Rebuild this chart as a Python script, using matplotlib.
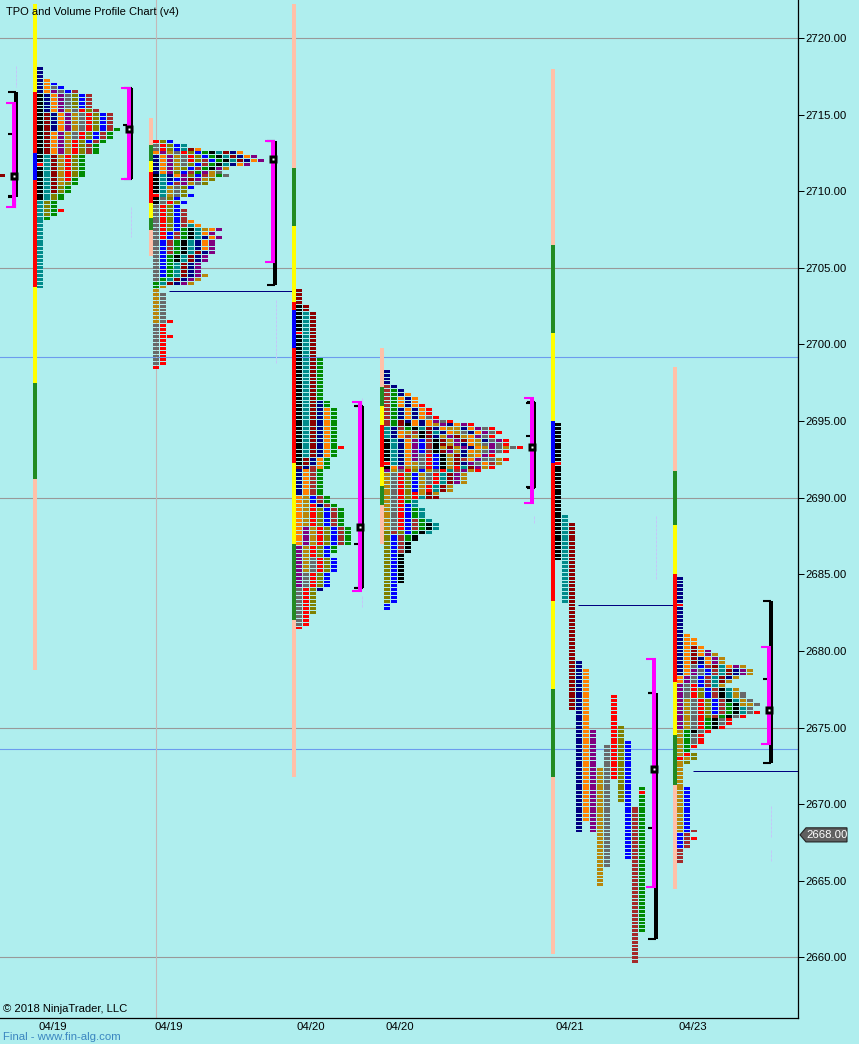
import matplotlib
matplotlib.use('Agg')
import matplotlib.pyplot as plt
from matplotlib.patches import Polygon

plt.rcParams['font.family'] = ['Liberation Sans', 'DejaVu Sans']

tpo_colors = {'k': '#000000', 'n': '#000080', 'o': '#FF8000', 'b': '#0000FF',
              'd': '#696969', 'p': '#800080', 'm': '#8B0000', 't': '#008B8B',
              'g': '#008B00', 'r': '#FF0000', 'w': '#A52A2A', 'l': '#808000',
              'y': '#B8860B'}
range_colors = {'P': '#FFC0A8', 'G': '#228B22', 'Y': '#FFFF00', 'R': '#FF0000',
                'B': '#0000FF'}

price_ticks = [2660, 2665, 2670, 2675, 2680, 2685, 2690, 2695, 2700, 2705, 2710, 2715, 2720]
gray_levels = [2720, 2705, 2690, 2675, 2660]
blue_levels = [2699.2, 2673.6]
date_labels = ['04/19', '04/19', '04/20', '04/20', '04/21', '04/23']
date_x = [53, 169, 311, 400, 570, 693]
last_price = 2668.00

# each block: how many rows, letters for columns going right. rows step 0.25 down
rows_a = [(3, 'n'), (1, 'no'), (1, 'nob'), (1, 'nodb'), (1, 'nopdbw'), (4, 'knopdlbw'),
          (1, 'knopydrlw'), (4, 'kmnopydrlbw'), (1, 'kmnopydrlbwg'), (2, 'kmopydrlbwg'),
          (1, 'kmopyrlbwg'), (3, 'kmopyrlwg'), (2, 'ktmyrlg'), (1, 'rtmyrlg'), (3, 'ktmyrlg'),
          (1, 'ktmyrg'), (1, 'ktmylg'), (2, 'ktmlg'), (2, 'ktlg'), (2, 'tlg'), (1, 'tlgr'),
          (1, 'tlg'), (1, 'tg'), (18, 't')]
rows_b = [(1, 'rlb'), (1, 'drlbt'), (1, 'drlbtmo'), (1, 'opydrlbgktmno'), (1, 'nopydrlbgktmnop'),
          (1, 'nopydrlwbgktmnop'), (1, 'nopydlbwgktnop'), (1, 'nopylbwgkpy'), (1, 'noplbwgpyd'),
          (1, 'ktnoplbwygd'), (1, 'ktnbpmpyl'), (1, 'ktbwpydl'), (1, 'ktydlb'), (1, 'ktydl'),
          (1, 'rtydlb'), (1, 'kdlb'), (1, 'kdrlb'), (1, 'drlb'), (3, 'drlbw'), (1, 'drlbwo'),
          (1, 'drlbwto'), (1, 'drlbgktyop'), (1, 'drbwgktop'), (1, 'drbwgktnop'), (3, 'dbwgktnop'),
          (1, 'dbwgktmnp'), (2, 'dbgktmnp'), (3, 'dbgtmnp'), (1, 'dbgtmnpy'), (1, 'dgtmnpy'),
          (1, 'gtmnpy'), (1, 'gy'), (1, 'y'), (7, 'yd'), (1, 'ydr'), (3, 'dr'), (1, 'drr'),
          (7, 'dr'), (1, 'r')]
rows_c = [(4, 'm'), (2, 'km'), (5, 'ktm'), (1, 'rtm'), (6, 'ktm'), (11, 'ktmg'), (2, 'ktmng'),
          (10, 'ktmnog'), (1, 'ktmnogr'), (2, 'ktmnog'), (2, 'kmnog'), (1, 'mnwog'), (7, 'nowg'),
          (2, 'oybwg'), (1, 'oyrnwg'), (5, 'oyrlbwg'), (5, 'opyrlbwg'), (2, 'pyrlbg'), (1, 'pyrlb'),
          (4, 'pydrlb'), (4, 'pdrlb'), (1, 'drln'), (6, 'drl'), (3, 'dr'), (1, 'r')]
rows_d = [(4, 'n'), (1, 'wn'), (1, 'wgn'), (1, 'wgno'), (2, 'wgono'), (1, 'wgonor'), (2, 'wgnonor'),
          (1, 'wgnonodr'), (1, 'wgmnonopdr'), (1, 'wgmkonoypnopr'), (1, 'tnwgktmnoyynopdr'),
          (1, 'tnoywkmtnoydnopdr'), (1, 'tnowykmnypmyopdr'), (1, 'ktnopbwkmypmoyndpr'),
          (1, 'ktnopbwkmypnoydpdr'), (1, 'ktnopbwkymypnoypdydr'), (1, 'ktnopbwkmpynoydpdr'),
          (1, 'ktnopdrbkymnyopr'), (1, 'ktnopdrbkymwopddyr'), (1, 'rtnoydrbkymnpdowy'),
          (1, 'kopyydrbkyrtmpyr'), (1, 'pydrlbydrtwpyr'), (3, 'ydrlbydrtmpy'), (2, 'ydrlbyrtmy'),
          (1, 'ydrlrymy'), (1, 'ydrlrtmm'), (1, 'ydrgt'), (1, 'ydrbt'), (3, 'ydrbgt'), (1, 'ydrbwgt'),
          (2, 'ydrbwgkt'), (1, 'lwlbgkt'), (2, 'lbwgk'), (3, 'lbwk'), (8, 'lbk'), (5, 'lb'), (2, 'b')]
rows_f = [(7, 'n'), (1, 'r'), (5, 'n'), (2, 'n'), (1, 'no'), (2, 'noo'), (1, 'nomo'), (1, 'nomop'),
          (1, 'nomopy'), (2, 'nomnopy'), (1, 'nodbwmtopy'), (2, 'nopdbwtmnpy'), (1, 'opdbwtmny'),
          (1, 'opdbwtmy'), (1, 'pdrbwty'), (1, 'pdrlbwkty'), (2, 'pdrlbwktyd'), (1, 'pydrlbwktyd'),
          (1, 'pydrlbwgkyyd'), (1, 'pydrlbwgktd'), (1, 'pydrlbwgktdr'), (1, 'pydrlwgkdr'),
          (2, 'pydrgkdr'), (1, 'pydrgkr'), (1, 'ygkdr'), (3, 'ygdr'), (1, 'ygr'), (1, 'yg'),
          (1, 'yrl'), (1, 'ryl'), (1, 'yl'), (6, 'y'), (11, 'yb'), (1, 'ybw'), (1, 'bw'), (1, 'bwr'),
          (2, 'bw'), (4, 'w')]
tops = [2718.0, 2713.25, 2703.5, 2698.25, 2684.75]
profile_rows = [rows_a, rows_b, rows_c, rows_d, rows_f]
profile_x = [37, 153, 296, 384, 677]

# 04/21 session is made of plain columns: letter, high, low
columns_e = [[('k', 2694.75, 2692.5), ('r', 2692.25, 2692.25), ('k', 2692.0, 2686.0)],
             [('t', 2688.75, 2683.25)], [('m', 2688.25, 2676.25)], [('n', 2679.25, 2668.25)],
             [('o', 2678.75, 2669.0)], [('p', 2674.75, 2668.25)], [('y', 2672.25, 2664.75)],
             [('d', 2673.75, 2666.0)], [('r', 2677.0, 2671.75)], [('l', 2675.0, 2670.25)],
             [('b', 2674.0, 2666.5)], [('w', 2669.75, 2659.75)],
             [('g', 2671.0, 2671.0), ('r', 2670.75, 2670.75), ('g', 2670.5, 2661.75)]]
columns_e_x = 555

range_x = [33, 149, 292, 380, 551, 673]
range_prices = [[2722.25, 2716.5, 2712.5, 2710.75, 2703.75, 2697.5, 2691.25, 2678.75],
                [2714.75, 2713, 2712, 2711.25, 2709.25, 2708.25, 2707.5, 2705.75],
                [2722.25, 2711.5, 2707.75, 2702.75, 2702.25, 2699.75, 2692.25, 2687, 2682, 2671.75],
                [2699.75, 2697.25, 2696, 2694.75, 2692, 2690.75, 2689.5, 2687],
                [2718, 2706.5, 2700.75, 2695, 2692.25, 2683.25, 2677.5, 2671.75, 2660.25],
                [2698.5, 2691.75, 2688.25, 2685, 2678, 2674.5, 2671.25, 2664.5]]
range_letters = ['YRBRYGP', 'PGYRYGP', 'PGYRBRYGP', 'PGYRYGP', 'PGYBRYGP', 'PGYRYGP']

# bracket x, black hi/lo, magenta hi/lo, poc, small ticks
bracket_x = [12, 127, 271, 358, 530, 652, 767]
bracket_black_x = [16, 132, 275, 363, 535, 656, 771]
black_high = [2716.5, 2716.75, 2713.25, 2696.0, 2696.25, 2677.25, 2683.25]
black_low = [2709.6, 2710.8, 2703.9, 2684.1, 2690.65, 2661.2, 2672.7]
value_high = [2715.75, 2716.75, 2713.25, 2696.25, 2696.5, 2679.5, 2680.25]
value_low = [2709.0, 2710.8, 2705.4, 2683.9, 2689.65, 2664.6, 2673.9]
poc_prices = [2711.0, 2714.05, 2712.1, 2688.1, 2693.3, 2672.3, 2676.15]
black_widths = [4, 2, 4, 2, 2, 4, 4]
mid_ticks = [[2713.75, 2709.7], [2714.35], [], [2696.0, 2687.0, 2684.1], [2696.2, 2694.0, 2690.7],
             [2677.25, 2668.45], [2678.15]]

naked_poc_prices = [2703.5, 2683.0, 2672.2]
naked_poc_from = [169, 578, 693]
naked_poc_to = [293, 673, 798]

dash_x = [16, 16, 131, 276, 362, 362, 534, 656, 771, 771]
dash_high = [2718.2, 2709.5, 2709.0, 2702.9, 2696.5, 2683.6, 2688.8, 2688.8, 2669.9, 2667.0]
dash_low = [2716.8, 2708.9, 2707.0, 2698.7, 2694.2, 2682.9, 2688.3, 2684.6, 2667.8, 2666.3]

fig = plt.figure(figsize=(8.59, 10.44), dpi=100, facecolor='#AFEEEE')
ax = fig.add_axes([0, 26 / 1044, 798 / 859, 1018 / 1044], facecolor='#AFEEEE')
ax.set_xlim(0, 798)
ax.set_ylim(2656.05, 2722.48)

for lv in gray_levels:
    ax.axhline(lv, color='#999999', lw=0.8, zorder=1)
for lv in blue_levels:
    ax.axhline(lv, color='#6C9CEE', lw=0.8, zorder=1)
ax.axvline(156, color='#C4B8B8', lw=0.8, zorder=1)

row_h = 0.19
col_w = 6
col_step = 7


def draw_cell(x, price, letter):
    ax.barh(price, col_w, height=row_h, left=x, align='center', color=tpo_colors[letter],
            linewidth=0, snap=True, zorder=3)


for top, rows, x0 in zip(tops, profile_rows, profile_x):
    price = top
    for count, letters in rows:
        for i in range(count):
            for c, letter in enumerate(letters):
                draw_cell(x0 + c * col_step, price, letter)
            price -= 0.25

for c, runs in enumerate(columns_e):
    for letter, hi, lo in runs:
        price = hi
        while price >= lo:
            draw_cell(columns_e_x + c * col_step, price, letter)
            price -= 0.25

draw_cell(-1, 2711.0, 'm')

for x, prices, letters in zip(range_x, range_prices, range_letters):
    for i, letter in enumerate(letters):
        ax.bar(x, prices[i] - prices[i + 1], width=4, bottom=prices[i + 1], align='edge',
               color=range_colors[letter], linewidth=0, snap=True, zorder=4)

for p, x1, x2 in zip(naked_poc_prices, naked_poc_from, naked_poc_to):
    ax.plot([x1, x2], [p, p], color='#000080', lw=0.72, zorder=2, clip_on=False,
            solid_capstyle='butt')

for x, hi, lo in zip(dash_x, dash_high, dash_low):
    ax.plot([x, x], [hi, lo], color='#C4C8F8', lw=0.72, ls=(0, (3, 1)), zorder=2)

for i in range(len(bracket_x)):
    x = bracket_x[i]
    bx = bracket_black_x[i]
    ax.plot([bx, bx], [black_high[i], black_low[i]], color='black', lw=black_widths[i] * 0.72,
            solid_capstyle='butt', zorder=5)
    ax.plot([bx - 8, bx], [black_high[i], black_high[i]], color='black', lw=1.5, solid_capstyle='butt', zorder=5)
    ax.plot([bx - 8, bx], [black_low[i], black_low[i]], color='black', lw=1.5, solid_capstyle='butt', zorder=5)
    for t in mid_ticks[i]:
        ax.plot([x - 4, x], [t, t], color='black', lw=1.5, solid_capstyle='butt', zorder=5)
    ax.plot([x + 2, x + 2], [value_high[i], value_low[i]], color='#FF00FF', lw=2.88,
            solid_capstyle='butt', zorder=6)
    ax.plot([x - 6, x + 4], [value_high[i], value_high[i]], color='#FF00FF', lw=1.5, solid_capstyle='butt', zorder=6)
    ax.plot([x - 6, x + 4], [value_low[i], value_low[i]], color='#FF00FF', lw=1.5, solid_capstyle='butt', zorder=6)
    ax.plot([x + 2], [poc_prices[i]], marker='s', ms=5.2, mfc='black', mec='none', ls='none', zorder=7)
    ax.plot([x + 2], [poc_prices[i]], marker='s', ms=1.6, mfc='white', mec='none', ls='none', zorder=8)

ax.spines['top'].set_visible(False)
ax.spines['left'].set_visible(False)
ax.spines['right'].set_linewidth(0.9)
ax.spines['bottom'].set_linewidth(0.9)

ax.yaxis.tick_right()
ax.set_yticks(price_ticks)
ax.set_yticklabels(['%.2f' % p for p in price_ticks], fontsize=8.2)
ax.tick_params(axis='y', length=4.3, width=0.72, pad=1)
ax.set_xticks(date_x)
ax.set_xticklabels(date_labels, fontsize=8.2)
ax.tick_params(axis='x', length=0, pad=3)

ax.text(6, 2721.68, 'TPO and Volume Profile Chart (v4)', fontsize=8.0, color='black', va='center', zorder=9)
ax.text(3, 2656.65, '\u00a9 2018 NinjaTrader, LLC', fontsize=8.1, color='black', va='center', zorder=9)
fig.text(3 / 859, 7 / 1044, 'Final - www.fin-alg.com', fontsize=8.2, color='#3A86C0', va='center')

tag = Polygon([(800, last_price), (806, last_price + 0.46), (847, last_price + 0.46),
               (847, last_price - 0.46), (806, last_price - 0.46)], closed=True,
              fc='#606060', ec='#222222', lw=0.8, clip_on=False, zorder=8)
ax.add_patch(tag)
ax.text(806.5, last_price, '%.2f' % last_price, color='white', fontsize=8.2, va='center', clip_on=False, zorder=9)

fig.savefig('out.png', dpi=100, facecolor=fig.get_facecolor())
